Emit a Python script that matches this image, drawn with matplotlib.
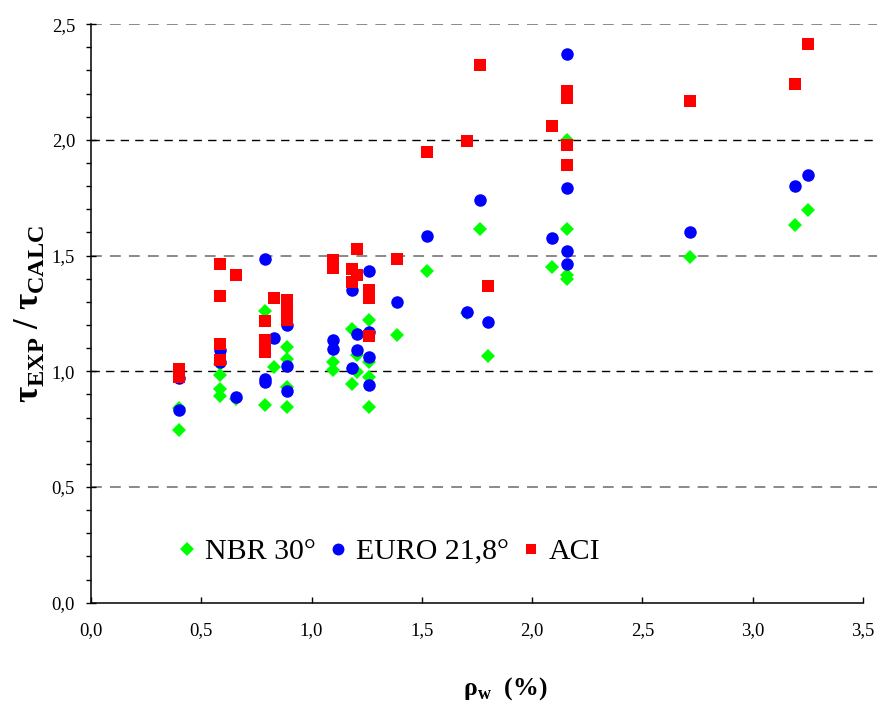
import matplotlib.pyplot as plt
from matplotlib.ticker import FuncFormatter, MultipleLocator

plt.rcParams['font.family'] = ['Liberation Serif', 'DejaVu Serif']
plt.rcParams['mathtext.fontset'] = 'custom'
plt.rcParams['mathtext.rm'] = 'Liberation Serif'
plt.rcParams['mathtext.bf'] = 'Liberation Serif:bold'

# NBR 30 degrees
nbr_x = [0.40, 0.40, 0.586, 0.586, 0.586, 0.586, 0.657, 0.787, 0.787, 0.83,
         0.89, 0.89, 0.89, 0.89, 1.095, 1.095, 1.181, 1.181, 1.207, 1.207,
         1.259, 1.259, 1.259, 1.259, 1.387, 1.523, 1.704, 1.765, 1.798, 2.09,
         2.159, 2.159, 2.159, 2.159, 2.717, 3.19, 3.25]
nbr_y = [0.842, 0.747, 1.03, 0.985, 0.923, 0.894, 0.88, 1.259, 0.855, 1.018,
         1.107, 1.053, 0.934, 0.845, 1.042, 1.006, 1.182, 0.945, 1.071, 0.999,
         1.223, 1.038, 0.975, 0.845, 1.155, 1.435, 1.25, 1.615, 1.067, 1.451,
         1.998, 1.615, 1.417, 1.399, 1.494, 1.632, 1.697]

# EURO 21,8 degrees
euro_x = [0.40, 0.40, 0.586, 0.586, 0.657, 0.787, 0.787, 0.787, 0.83,
          0.89, 0.89, 0.89, 1.095, 1.095, 1.181, 1.181, 1.207, 1.207,
          1.259, 1.259, 1.259, 1.259, 1.387, 1.523, 1.704, 1.765, 1.798, 2.09,
          2.159, 2.159, 2.159, 2.159, 2.717, 3.19, 3.25]
euro_y = [0.971, 0.833, 1.093, 1.04, 0.891, 1.487, 0.966, 0.952, 1.144,
          1.201, 1.021, 0.916, 1.136, 1.096, 1.35, 1.014, 1.161, 1.093,
          1.432, 1.168, 1.061, 0.939, 1.301, 1.586, 1.256, 1.742, 1.214, 1.577,
          2.373, 1.791, 1.521, 1.464, 1.603, 1.799, 1.849]

# ACI
aci_x = [0.40, 0.40, 0.586, 0.586, 0.586, 0.586, 0.657, 0.787, 0.787, 0.787, 0.787,
         0.83, 0.89, 0.89, 0.89, 0.89, 1.095, 1.095, 1.181, 1.181, 1.207, 1.207,
         1.259, 1.259, 1.259, 1.387, 1.523, 1.704, 1.765, 1.798, 2.09,
         2.159, 2.159, 2.159, 2.159, 2.717, 3.19, 3.25]
aci_y = [1.009, 0.977, 1.465, 1.324, 1.119, 1.047, 1.414, 1.218, 1.135, 1.11, 1.085,
         1.317, 1.309, 1.28, 1.244, 1.223, 1.482, 1.446, 1.442, 1.384, 1.529, 1.417,
         1.352, 1.317, 1.151, 1.487, 1.948, 1.997, 2.323, 1.367, 2.062,
         2.21, 2.18, 1.98, 1.89, 2.169, 2.242, 2.413]

fig = plt.figure(figsize=(8.81, 7.02), dpi=100)
ax = fig.add_axes([0.1033, 0.1415, 0.8926, 0.824])

# dashed grid lines, alternating black / grey as in the original
for yv, col, lw in [(0.5, '#808080', 1.3), (1.0, 'black', 1.0), (1.5, '#808080', 1.3),
                    (2.0, 'black', 1.0), (2.5, '#808080', 1.3)]:
    ax.axhline(yv, color=col, lw=lw, dashes=(6, 4.5), zorder=1)

ax.plot(nbr_x, nbr_y, 'D', color='#00ff00', ms=7.2, mew=0, ls='none', label='NBR 30°', zorder=3)
ax.plot(euro_x, euro_y, 'o', color='#0000ff', ms=9, mew=0, ls='none', label='EURO 21,8°', zorder=4)
ax.plot(aci_x, aci_y, 's', color='#ff0000', ms=8.3, mew=0, ls='none', label='ACI', zorder=5)

ax.set_xlim(0, 3.565)
ax.set_ylim(0, 2.5)
ax.spines['top'].set_visible(False)
ax.spines['right'].set_visible(False)
ax.spines['bottom'].set_bounds(0, 3.5)
for s in ['left', 'bottom']:
    ax.spines[s].set_linewidth(1.1)

ax.xaxis.set_major_locator(MultipleLocator(0.5))
ax.yaxis.set_major_locator(MultipleLocator(0.5))
ax.yaxis.set_minor_locator(MultipleLocator(0.1))
fmt = FuncFormatter(lambda v, p: f'{v:.1f}'.replace('.', ','))
ax.xaxis.set_major_formatter(fmt)
ax.yaxis.set_major_formatter(fmt)
ax.tick_params(axis='x', direction='in', length=4, width=1, labelsize=13.5, pad=14)
ax.tick_params(axis='y', which='major', direction='inout', length=7, width=1, labelsize=13.5, pad=8)
ax.tick_params(axis='y', which='minor', direction='out', length=3.5, width=1)

ax.set_xlabel('ρ$_{\\mathbf{w}}$  (%)', fontsize=18.5, fontweight='bold')
ax.xaxis.set_label_coords(0.527, -0.126)
ax.set_ylabel('τ$_{\\mathbf{EXP}}$ / τ$_{\\mathbf{CALC}}$', fontsize=25, fontweight='bold', labelpad=4)

ax.legend(loc='center left', bbox_to_anchor=(0.393, 0.219), bbox_transform=ax.transData,
          ncol=3, frameon=False, fontsize=21.5, handlelength=0.6, handletextpad=0.3,
          columnspacing=0.45, borderpad=0, borderaxespad=0, markerscale=0.95)

plt.savefig('out.png', dpi=100)
